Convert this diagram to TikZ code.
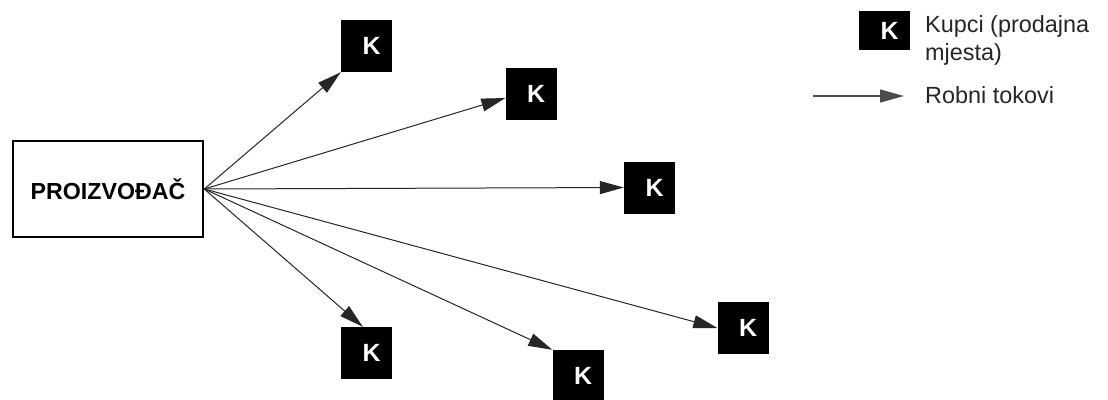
\documentclass[tikz,border=0pt]{standalone}
\usepackage{fontspec}
\setmainfont{Liberation Sans}
\usetikzlibrary{arrows.meta}
\begin{document}
\begin{tikzpicture}[x=1bp,y=-1bp,
  kbox/.style={fill=black,text=white,inner sep=0pt,minimum width=51bp,minimum height=52bp,
    font=\fontsize{25}{25}\selectfont\bfseries},
  prodbox/.style={draw=black,line width=2.6bp,fill=white,inner sep=0pt,minimum width=190bp,minimum height=96bp,
    font=\fontsize{23.3}{23.3}\selectfont\bfseries},
  flow/.style={draw=black!85,line width=1bp,-{Triangle[length=24bp,width=13bp]}},
  legtext/.style={anchor=base west,inner sep=0pt,font=\fontsize{23.5}{23.5}\selectfont,text=black!85}]
\useasboundingbox (0,0) rectangle (1108,399);

\node[prodbox] (prod) at (108,189) {PROIZVOĐAČ};

\node[kbox] (k1) at (366.5,46) {\kern10bp K};
\node[kbox] (k2) at (531,93.5) {\kern10bp K};
\node[kbox] (k3) at (649.5,187.5) {\kern10bp K};
\node[kbox] (k4) at (366.5,353) {\kern10bp K};
\node[kbox] (k5) at (578,376) {\kern10bp K};
\node[kbox] (k6) at (743,328) {\kern10bp K};

\draw[flow] (prod.east) -- (k1.south west);
\draw[flow] (prod.east) -- (k2.190);
\draw[flow] (prod.east) -- (k3.west);
\draw[flow] (prod.east) -- (k4.98);
\draw[flow] (prod.east) -- (k5.north west);
\draw[flow] (prod.east) -- (k6.west);

% legend
\node[kbox,minimum height=39bp] (lk) at (884.5,30.5) {\kern10bp K};
\node[legtext] (lt1) at (925,32) {Kupci (prodajna};
\node[legtext] (lt2) at (925,60) {mjesta)};
\coordinate (la) at (813,96);
\coordinate (lb) at (904,96);
\draw[flow,line width=1.4bp,draw=black!70] (la) -- (lb);
\node[legtext] (lt3) at (925,103) {Robni tokovi};
\end{tikzpicture}
\end{document}
